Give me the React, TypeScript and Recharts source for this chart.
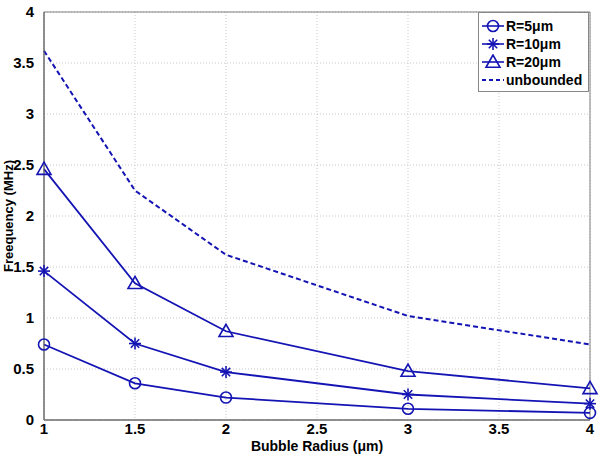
import React from "react";
import {
  LineChart,
  Line,
  XAxis,
  YAxis,
  CartesianGrid,
  ReferenceArea,
} from "recharts";

const radii = [1, 1.5, 2, 3, 4];
const r5 = [0.74, 0.36, 0.22, 0.11, 0.07];
const r10 = [1.46, 0.75, 0.47, 0.25, 0.16];
const r20 = [2.46, 1.34, 0.87, 0.48, 0.31];
const unbounded = [3.62, 2.25, 1.62, 1.02, 0.74];

const xTicks = [1, 1.5, 2, 2.5, 3, 3.5, 4];
const yTicks = [0, 0.5, 1, 1.5, 2, 2.5, 3, 3.5, 4];

const BLUE = "#1414b4";
const FONT = "'Liberation Sans', Arial, sans-serif";

const data = radii.map((r, i) => ({
  r,
  r5: r5[i],
  r10: r10[i],
  r20: r20[i],
  unbounded: unbounded[i],
}));

function Circle({ cx, cy }: any) {
  if (cx == null || cy == null) return null;
  return <circle cx={cx} cy={cy} r={5.5} fill="none" stroke={BLUE} strokeWidth={1.6} />;
}

function Star({ cx, cy }: any) {
  if (cx == null || cy == null) return null;
  const s = 6;
  return (
    <g stroke={BLUE} strokeWidth={1.6}>
      <line x1={cx - s} y1={cy} x2={cx + s} y2={cy} />
      <line x1={cx} y1={cy - s} x2={cx} y2={cy + s} />
      <line x1={cx - s * 0.7} y1={cy - s * 0.7} x2={cx + s * 0.7} y2={cy + s * 0.7} />
      <line x1={cx - s * 0.7} y1={cy + s * 0.7} x2={cx + s * 0.7} y2={cy - s * 0.7} />
    </g>
  );
}

function Triangle({ cx, cy }: any) {
  if (cx == null || cy == null) return null;
  const s = 7;
  return (
    <polygon
      points={`${cx},${cy - s} ${cx - s},${cy + s * 0.75} ${cx + s},${cy + s * 0.75}`}
      fill="none"
      stroke={BLUE}
      strokeWidth={1.6}
    />
  );
}

const legendItems = [
  { label: "R=5\u03bcm", marker: "circle" },
  { label: "R=10\u03bcm", marker: "star" },
  { label: "R=20\u03bcm", marker: "triangle" },
  { label: "unbounded", marker: "dash" },
];

function LegendBox() {
  return (
    <div
      style={{
        position: "absolute",
        left: 478,
        top: 12,
        width: 111,
        height: 80,
        background: "#fff",
        border: "1px solid #888",
        boxSizing: "border-box",
        padding: "4px 2px",
        fontFamily: FONT,
        fontWeight: "bold",
        fontSize: 14,
        color: "#000",
      }}
    >
      {legendItems.map((it) => (
        <div key={it.label} style={{ display: "flex", alignItems: "center", height: 18 }}>
          <svg width={24} height={16}>
            {it.marker === "dash" ? (
              <line x1={1} y1={8} x2={23} y2={8} stroke={BLUE} strokeWidth={2} strokeDasharray="4 3" />
            ) : (
              <line x1={1} y1={8} x2={23} y2={8} stroke={BLUE} strokeWidth={1.6} />
            )}
            {it.marker === "circle" && <Circle cx={12} cy={8} />}
            {it.marker === "star" && <Star cx={12} cy={8} />}
            {it.marker === "triangle" && <Triangle cx={12} cy={8} />}
          </svg>
          <span style={{ marginLeft: 1 }}>{it.label}</span>
        </div>
      ))}
    </div>
  );
}

const tickStyle = { fontFamily: FONT, fontWeight: "bold", fontSize: 15, fill: "#000" };

export default function App() {
  return (
    <div style={{ position: "absolute", left: 0, top: 0, width: 600, height: 459, background: "#fff" }}>
      <LineChart
        width={600}
        height={459}
        data={data}
        margin={{ top: 12, right: 10, bottom: 0, left: 0 }}
      >
        <CartesianGrid stroke="#c8c8c8" strokeDasharray="1 2" />
        <XAxis
          dataKey="r"
          type="number"
          domain={[1, 4]}
          ticks={xTicks}
          tick={tickStyle}
          tickLine={false}
          axisLine={{ stroke: "#606060" }}
          height={39}
          tickMargin={-3}
          label={{
            value: "Bubble Radius (\u03bcm)",
            position: "insideBottom",
            offset: 8,
            style: { fontFamily: FONT, fontWeight: "bold", fontSize: 14, fill: "#000" },
          }}
        />
        <YAxis
          type="number"
          domain={[0, 4]}
          ticks={yTicks}
          tick={tickStyle}
          tickLine={false}
          axisLine={{ stroke: "#606060" }}
          width={44}
          tickMargin={4}
          label={{
            value: "Freequency (MHz)",
            angle: -90,
            position: "insideLeft",
            offset: 0,
            dx: 8,
            style: { fontFamily: FONT, fontWeight: "bold", fontSize: 13, fill: "#000", textAnchor: "middle" },
          }}
        />
        <ReferenceArea
          x1={1}
          x2={4}
          y1={0}
          y2={4}
          fill="none"
          stroke="#808080"
          strokeWidth={1}
        />
        <Line
          dataKey="unbounded"
          stroke={BLUE}
          strokeWidth={2}
          strokeDasharray="5 3"
          dot={false}
          isAnimationActive={false}
        />
        <Line
          dataKey="r20"
          stroke={BLUE}
          strokeWidth={1.8}
          dot={<Triangle />}
          isAnimationActive={false}
        />
        <Line
          dataKey="r10"
          stroke={BLUE}
          strokeWidth={1.8}
          dot={<Star />}
          isAnimationActive={false}
        />
        <Line
          dataKey="r5"
          stroke={BLUE}
          strokeWidth={1.8}
          dot={<Circle />}
          isAnimationActive={false}
        />
      </LineChart>
      <LegendBox />
    </div>
  );
}
